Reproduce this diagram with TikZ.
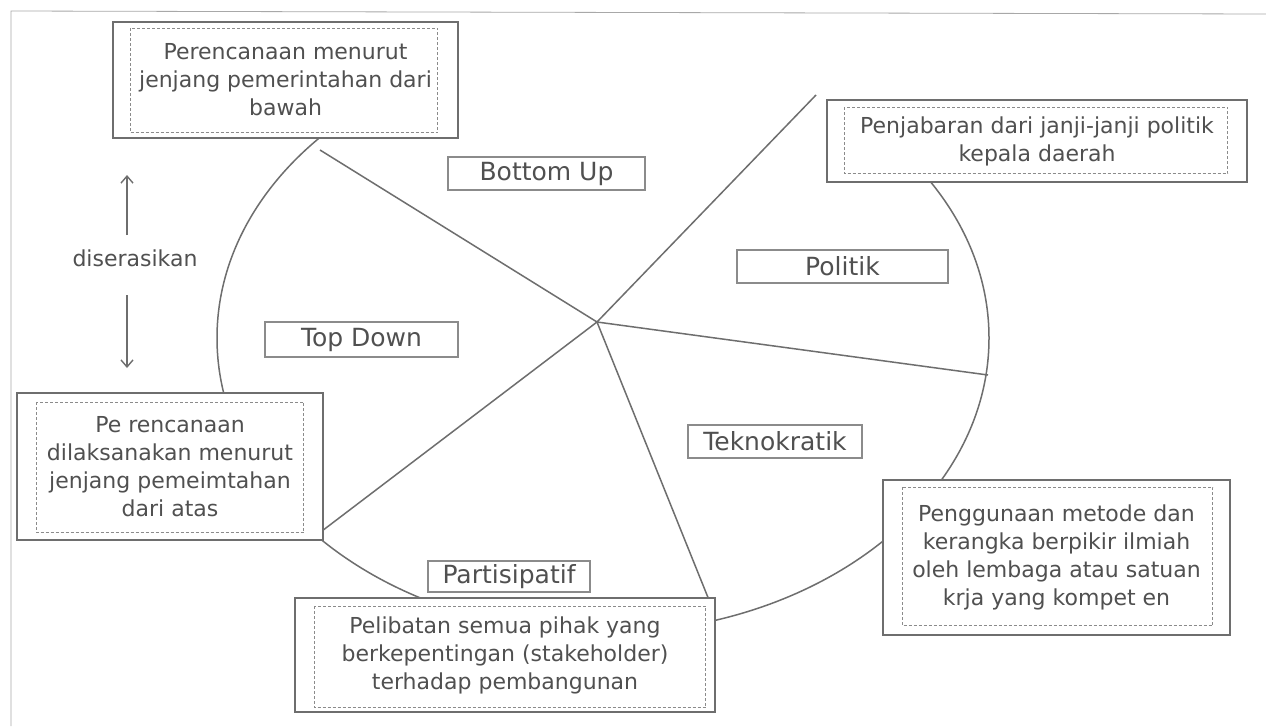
\documentclass[tikz,border=0pt]{standalone}
\usepackage{fontspec}
\setmainfont{DejaVu Sans}
\usetikzlibrary{arrows.meta}
\definecolor{ln}{HTML}{6E6E6E}
\definecolor{tx}{HTML}{505050}
\begin{document}
\begin{tikzpicture}[x=1pt,y=-1pt,
 outerbox/.style={draw=ln,line width=1.6pt,fill=white,inner sep=0pt,align=center,text=tx,font=\fontsize{22}{28}\selectfont},
 innerbox/.style={draw=ln!80,line width=0.9pt,densely dashed},
 lab/.style={draw=ln!80,line width=1.1pt,fill=white,inner sep=0pt,text=tx,font=\fontsize{25}{30}\selectfont},
 wire/.style={draw=ln,line width=1.5pt},
 arr/.style={draw=ln,line width=1.4pt,-{Straight Barb[length=7pt,width=12pt]}}]
\useasboundingbox (0,0) rectangle (1266,726);
\fill[white] (0,0) rectangle (1266,726);
\draw[ln!60,line width=0.8pt] (11,726) -- (11,11) -- (1266,14);
% ellipse (top arc not shown) and spokes
\begin{scope}
  \clip (0,136) rectangle (1266,726);
  \draw[wire] (603,338) ellipse [x radius=386, y radius=295];
\end{scope}
\coordinate (hub) at (597,322);
\coordinate (eUL) at (320,150);
\coordinate (eUR) at (816,95);
\coordinate (eR) at (988,375);
\coordinate (eD) at (709,600);
\coordinate (eLL) at (318,534);
\draw[wire] (hub) -- (eUL);
\draw[wire] (hub) -- (eUR);
\draw[wire] (hub) -- (eR);
\draw[wire] (hub) -- (eD);
\draw[wire] (hub) -- (eLL);
% text boxes
\node[outerbox,minimum width=345,minimum height=116] (A) at (285.5,80)
  {Perencanaan menurut\\jenjang pemerintahan dari\\bawah};
\draw[innerbox] ([xshift=18pt,yshift=-7pt]A.north west) rectangle ([xshift=-21pt,yshift=6pt]A.south east);
\node[outerbox,minimum width=420,minimum height=82] (B) at (1037,141)
  {Penjabaran dari janji-janji politik\\kepala daerah};
\draw[innerbox] ([xshift=18pt,yshift=-8pt]B.north west) rectangle ([xshift=-20pt,yshift=9pt]B.south east);
\node[outerbox,minimum width=306,minimum height=147] (C) at (170,466.5)
  {Pe rencanaan\\dilaksanakan menurut\\jenjang pemeimtahan\\dari atas};
\draw[innerbox] ([xshift=20pt,yshift=-10pt]C.north west) rectangle ([xshift=-20pt,yshift=8pt]C.south east);
\node[outerbox,minimum width=347,minimum height=155] (D) at (1056.5,557.5)
  {Penggunaan metode dan\\kerangka berpikir ilmiah\\oleh lembaga atau satuan\\krja yang kompet en};
\draw[innerbox] ([xshift=20pt,yshift=-8pt]D.north west) rectangle ([xshift=-18pt,yshift=10pt]D.south east);
\node[outerbox,minimum width=420,minimum height=114] (E) at (505,655)
  {Pelibatan semua pihak yang\\berkepentingan (stakeholder)\\terhadap pembangunan};
\draw[innerbox] ([xshift=20pt,yshift=-9pt]E.north west) rectangle ([xshift=-10pt,yshift=5pt]E.south east);
% labels
\node[lab,minimum width=197,minimum height=33] (bu) at (546.5,173.5) {Bottom Up};
\node[lab,minimum width=211,minimum height=33] (po) at (842.5,266.5) {Politik};
\node[lab,minimum width=193,minimum height=35] (td) at (361.5,339.5) {Top Down};
\node[lab,minimum width=174,minimum height=33] (tk) at (775,441.5) {Teknokratik};
\node[lab,minimum width=162,minimum height=31] (pa) at (509,576.5) {Partisipatif};
% diserasikan
\node[text=tx,font=\fontsize{22}{26}\selectfont,inner sep=0pt] (dis) at (135,258) {diserasikan};
\coordinate (upS) at (127,235);
\coordinate (upT) at (127,175);
\coordinate (dnS) at (127,295);
\coordinate (dnT) at (127,368);
\draw[arr] (upS) -- (upT);
\draw[arr] (dnS) -- (dnT);
\end{tikzpicture}
\end{document}
